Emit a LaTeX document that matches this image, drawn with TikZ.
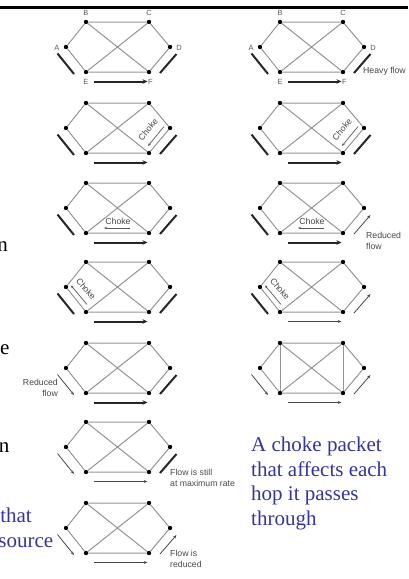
\documentclass[tikz,border=0pt]{standalone}
\usepackage{fontspec}
\setmainfont{Liberation Serif}
\setsansfont{Liberation Sans}
\usetikzlibrary{arrows.meta}
\definecolor{slideblue}{RGB}{52,52,160}
\tikzset{
  dot/.style={circle,fill=black,inner sep=0pt,minimum size=4.4pt},
  edge/.style={draw=black!42,line width=1pt},
  heavy/.style={draw=black!85,line width=2pt},
  heavyarr/.style={heavy,-{Stealth[length=5pt,width=4.5pt]}},
  thinarr/.style={draw=black!72,line width=0.8pt,-{Stealth[length=3.6pt,width=2.8pt]}},
  chokearr/.style={draw=black!65,line width=0.7pt,-{Stealth[length=3pt,width=2.4pt]}},
  lab/.style={font=\sffamily\fontsize{8.7}{10.8}\selectfont,text=black!72,inner sep=0pt},
  ltr/.style={font=\sffamily\fontsize{7.5}{9}\selectfont,text=black!65,inner sep=0pt},
  big/.style={font=\fontsize{21}{25}\selectfont,inner sep=0pt},
  net/.pic={
    \node[dot] (B) at (0,0) {};
    \node[dot] (C) at (63,0) {};
    \node[dot] (A) at (-20,25) {};
    \node[dot] (D) at (84,25) {};
    \node[dot] (E) at (0,50) {};
    \node[dot] (F) at (63,50) {};
    \draw[edge] (A) -- (B) -- (C) -- (D) -- (F) -- (E) -- (A);
    \draw[edge] (B) -- (F) (C) -- (E);
    \coordinate (ae1) at (-28.5,31.5);
    \coordinate (ae2) at (-12,52);
    \coordinate (ef1) at (8,59.5);
    \coordinate (ef2) at (61.5,59.5);
    \coordinate (fd1) at (74,51);
    \coordinate (fd2) at (90.5,32);
    \coordinate (chDF) at (62,26.5);
    \coordinate (chEF) at (32,38);
    \coordinate (chAE) at (0,27);
    \coordinate (cdf1) at (78,23.5);
    \coordinate (cdf2) at (62,43);
    \coordinate (cef1) at (44,45);
    \coordinate (cef2) at (18,45);
    \coordinate (cae1) at (1,42.5);
    \coordinate (cae2) at (-15,23.5);
    \coordinate (lbL) at (-28,44.5);
    \coordinate (lbR) at (84,56);
  }
}
\begin{document}
\begin{tikzpicture}[x=1pt,y=-1pt]
\useasboundingbox (0,0) rectangle (408,579);
% top rule
\coordinate (tl) at (0,7.5);
\coordinate (tr) at (408,7.5);
\draw[line width=2.2pt] (tl) -- (tr);

% ---------- left column ----------
\pic (L1) at (86,22) {net};
\pic (L2) at (86,103) {net};
\pic (L3) at (86,183) {net};
\pic (L4) at (86,262) {net};
\pic (L5) at (86,343) {net};
\pic (L6) at (86,422) {net};
\pic (L7) at (86,503) {net};

% ---------- right column ----------
\pic (R1) at (280,22) {net};
\pic (R2) at (280,103) {net};
\pic (R3) at (280,183) {net};
\pic (R4) at (280,262) {net};
\pic (R5) at (280,343) {net};
\draw[edge] (R5B) -- (R5E) (R5C) -- (R5F);

% letters in first graphs
\foreach \g in {L1,R1}{
  \node[ltr] (\g lB) at ([yshift=9.5pt]\g B) {B};
  \node[ltr] (\g lC) at ([yshift=9.5pt]\g C) {C};
  \node[ltr] (\g lA) at ([xshift=-9pt,yshift=-0.7pt]\g A) {A};
  \node[ltr] (\g lD) at ([xshift=9pt,yshift=-0.7pt]\g D) {D};
  \node[ltr] (\g lE) at ([yshift=-9.5pt]\g E) {E};
  \node[ltr] (\g lF) at ([xshift=1.5pt,yshift=-9.5pt]\g F) {F};
}

% heavy flows everywhere at first
\foreach \g in {L1,L2,L3,L4,R1,R2}{
  \draw[heavy] (\g ae1) -- (\g ae2);
  \draw[heavyarr] (\g ef1) -- (\g ef2);
  \draw[heavy] (\g fd1) -- (\g fd2);
}
% L5: reduced at A
\draw[thinarr] (L5ae1) -- (L5ae2);
\draw[heavyarr] (L5ef1) -- (L5ef2);
\draw[heavy] (L5fd1) -- (L5fd2);
\node[lab,align=right,anchor=east] (L5lab) at (L5lbL) {Reduced\\flow};
% L6
\draw[thinarr] (L6ae1) -- (L6ae2);
\draw[thinarr] (L6ef1) -- (L6ef2);
\draw[heavy] (L6fd1) -- (L6fd2);
\node[lab,align=left,anchor=west] (L6lab) at (L6lbR) {Flow is still\\at maximum rate};
% L7
\draw[thinarr] (L7ae1) -- (L7ae2);
\draw[thinarr] (L7ef1) -- (L7ef2);
\draw[thinarr] (L7fd1) -- (L7fd2);
\node[lab,align=left,anchor=west] (L7lab) at ([yshift=0.5pt]L7lbR) {Flow is\\reduced};

% R1 label
\node[lab,anchor=west] (R1lab) at ([xshift=-1pt,yshift=7pt]R1lbR) {Heavy flow};
% R3
\draw[heavy] (R3ae1) -- (R3ae2);
\draw[heavyarr] (R3ef1) -- (R3ef2);
\draw[thinarr] (R3fd1) -- (R3fd2);
\node[lab,align=left,anchor=west] (R3lab) at ([xshift=2pt,yshift=-1.5pt]R3lbR) {Reduced\\flow};
% R4
\draw[heavy] (R4ae1) -- (R4ae2);
\draw[thinarr] (R4ef1) -- (R4ef2);
\draw[thinarr] (R4fd1) -- (R4fd2);
% R5
\draw[thinarr] (R5ae1) -- (R5ae2);
\draw[thinarr] (R5ef1) -- (R5ef2);
\draw[thinarr] (R5fd1) -- (R5fd2);

% choke packets
\foreach \g in {L2,R2}{
  \node[lab,rotate=50] (\g ch) at (\g chDF) {Choke};
  \draw[chokearr] (\g cdf1) -- (\g cdf2);
}
\foreach \g in {L3,R3}{
  \node[lab] (\g ch) at (\g chEF) {Choke};
  \draw[chokearr] (\g cef1) -- (\g cef2);
}
\foreach \g in {L4,R4}{
  \node[lab,rotate=-50] (\g ch) at (\g chAE) {Choke};
  \draw[chokearr] (\g cae1) -- (\g cae2);
}

% cut-off slide text at left edge
\node[big,anchor=base east] (t1) at (8,251) {n};
\node[big,anchor=base west] (t2) at (0,354) {e};
\node[big,anchor=base east] (t3) at (9.5,452) {n};
\node[big,anchor=base east,text=slideblue] (t4) at (32,522) {that};
\node[big,anchor=base east,text=slideblue] (t5) at (53.5,547) {source};

% right blue text
\node[big,anchor=base west,text=slideblue] (b1) at (251,451) {A choke packet};
\node[big,anchor=base west,text=slideblue] (b2) at (251,476) {that affects each};
\node[big,anchor=base west,text=slideblue] (b3) at (251,500.5) {hop it passes};
\node[big,anchor=base west,text=slideblue] (b4) at (251,525) {through};
\end{tikzpicture}
\end{document}
